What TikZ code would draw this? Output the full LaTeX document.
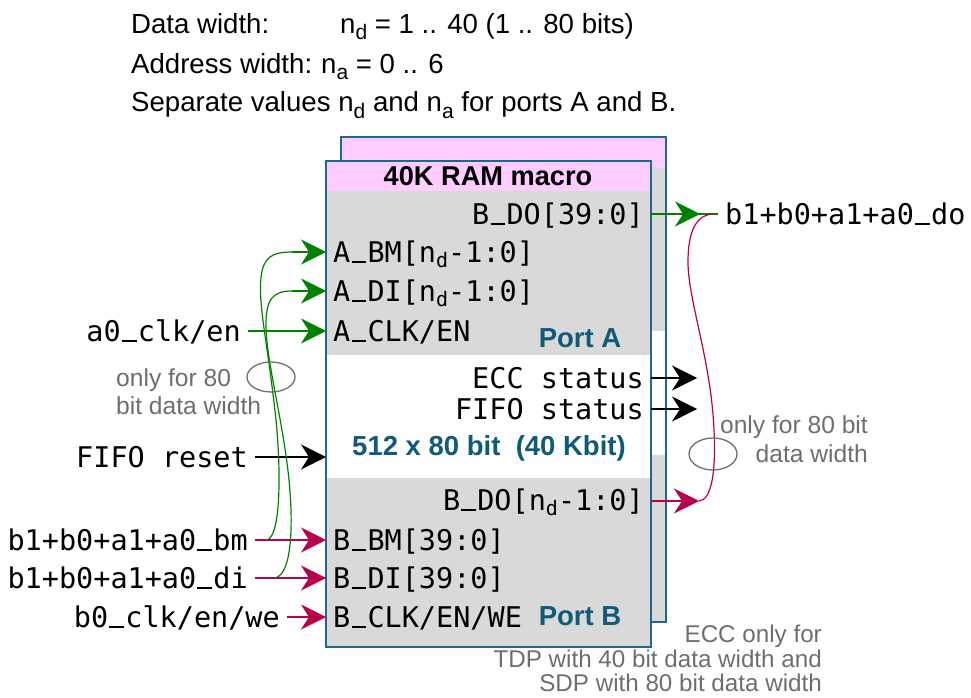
\documentclass[tikz,border=0pt]{standalone}
\usepackage{fontspec}
\setmainfont{Liberation Sans}
\newfontfamily\monof{DejaVu Sans Mono}
\usetikzlibrary{arrows.meta}
\definecolor{arrgreen}{RGB}{0,130,0}
\definecolor{crim}{RGB}{185,0,75}
\definecolor{pinkfill}{RGB}{255,204,255}
\definecolor{grayfill}{RGB}{217,217,217}
\definecolor{border}{RGB}{30,105,135}
\definecolor{tealtext}{RGB}{15,90,120}
\definecolor{notegray}{RGB}{110,110,110}
\newcommand{\lowsub}[1]{\raisebox{-5pt}{\fontsize{20}{20}\selectfont #1}}
\newcommand{\lowsubs}[1]{\raisebox{-6pt}{\fontsize{21}{21}\selectfont #1}}
\newcommand{\us}{\makebox[0.602em][c]{\rule[-0.03em]{0.52em}{0.075em}}}
\begin{document}
\begin{tikzpicture}[x=1pt,y=-1pt,
  mono/.style={font=\monof\fontsize{28.5}{28.5}\selectfont, inner xsep=7pt, inner ysep=0pt, text height=20pt, text depth=0pt},
  toptext/.style={font=\fontsize{27.6}{27.6}\selectfont, inner sep=0pt, text height=20pt, text depth=0pt, anchor=west},
  tealb/.style={font=\bfseries\fontsize{27.5}{27.5}\selectfont, text=tealtext, inner sep=0pt, text height=19.7pt, text depth=0pt},
  note/.style={text=notegray, inner sep=0pt},
  tipstyle/.style={-{Stealth[length=25pt,width=25pt,inset=8pt]}},
  garr/.style={draw=arrgreen, line width=1.3pt, tipstyle},
  carr/.style={draw=crim, line width=1.3pt, tipstyle},
  karr/.style={draw=black, line width=1.3pt, tipstyle},
  gline/.style={draw=arrgreen, line width=1.2pt},
  cline/.style={draw=crim, line width=1.2pt},
  ell/.style={draw=notegray, line width=1.3pt},
  boxborder/.style={draw=border, line width=1.6pt}
]
\useasboundingbox (0,0) rectangle (971,698);

% top texts
\node[toptext] (dw) at (131,24) {Data width:};
\node[toptext] (dwv) at (340,24) {n\lowsubs{d} = 1 .. 40 (1 .. 80 bits)};
\node[toptext] (aw) at (131,64) {Address width:};
\node[toptext] (awv) at (321,64) {n\lowsubs{a} = 0 .. 6};
\node[toptext] (sepv) at (131,102) {Separate values n\lowsubs{d} and n\lowsubs{a} for ports A and B.};

% back rectangle
\fill[pinkfill] (341,137) rectangle (666,168);
\fill[grayfill] (341,168) rectangle (666,331);
\fill[white] (341,331) rectangle (666,455);
\fill[grayfill] (341,455) rectangle (666,622);
\draw[boxborder] (341,137) rectangle (666,622);

% front rectangle
\fill[pinkfill] (326,161) rectangle (651,191);
\fill[grayfill] (326,191) rectangle (651,355);
\fill[white] (326,355) rectangle (651,478);
\fill[grayfill] (326,478) rectangle (651,647);
\draw[boxborder] (326,161) rectangle (651,647);

\node[font=\bfseries\fontsize{27.2}{27.2}\selectfont, inner sep=0pt, text height=19.5pt, text depth=0pt] (hdr) at (488,176) {40K RAM macro};

% ports
\node[mono, anchor=east] (bdo) at (651,214) {B\us DO[39:0]};
\node[mono, anchor=west] (abm) at (326,252) {A\us BM[n\lowsub{d}-1:0]};
\node[mono, anchor=west] (adi) at (326,291) {A\us DI[n\lowsub{d}-1:0]};
\node[mono, anchor=west] (aclk) at (326,331) {A\us CLK/EN};
\node[tealb] (porta) at (580,338) {Port A};
\node[mono, anchor=east] (ecc) at (651,378) {ECC status};
\node[mono, anchor=east] (fifos) at (651,409) {FIFO status};
\node[tealb] (capa) at (489,446) {512 x 80 bit\ \ (40 Kbit)};
\node[mono, anchor=east] (bdon) at (651,500) {B\us DO[n\lowsub{d}-1:0]};
\node[mono, anchor=west] (bbm) at (326,540) {B\us BM[39:0]};
\node[mono, anchor=west] (bdi) at (326,578) {B\us DI[39:0]};
\node[mono, anchor=west] (bclk) at (326,617) {B\us CLK/EN/WE};
\node[tealb] (portb) at (580,616) {Port B};

% left sources
\node[mono, anchor=east] (a0clk) at (248,331) {a0\us clk/en};
\node[mono, anchor=east] (fiforst) at (255,457) {FIFO reset};
\node[mono, anchor=east] (srcbm) at (255,540) {b1+b0+a1+a0\us bm};
\node[mono, anchor=east] (srcdi) at (255,578) {b1+b0+a1+a0\us di};
\node[mono, anchor=east] (srcclk) at (287,617) {b0\us clk/en/we};

% right destination
\node[mono, anchor=west] (dstdo) at (718,214) {b1+b0+a1+a0\us do};

% left arrows
\draw[garr] (a0clk.east) -- (aclk.west);
\draw[karr] (fiforst.east) -- (326,457);
\draw[carr] (srcbm.east) -- (bbm.west);
\draw[carr] (srcdi.east) -- (bdi.west);
\draw[carr] (srcclk.east) -- (bclk.west);

% green curves
\coordinate (gbm) at (267,540);
\coordinate (gdi) at (275,578);
\draw[gline] (gbm) .. controls (281,536) and (281,470) .. (276,420) .. controls (268,345) and (258,305) .. (261,278) .. controls (263,257) and (272,252) .. (292,252);
\draw[garr] (292,252) -- (abm.west);
\draw[gline] (gdi) .. controls (293,574) and (293,520) .. (289,480) .. controls (283,420) and (266,360) .. (266,325) .. controls (266,300) and (272,291) .. (292,291);
\draw[garr] (292,291) -- (adi.west);

% right arrows
\coordinate (bdotip) at (700,214);
\coordinate (eccout) at (697,378);
\coordinate (fifoout) at (697,409);
\coordinate (bdonout) at (699,501);
\draw[gline] (bdo.east |- dstdo.west) -- (dstdo.west);
\draw[garr] (bdo.east |- dstdo.west) -- (bdotip);
\draw[karr] (ecc.east) -- (eccout);
\draw[karr] (fifos.east) -- (fifoout);
\draw[carr] (bdon.east |- bdonout) -- (bdonout);
\draw[cline] (bdonout) .. controls (712,500) and (716,470) .. (714,430) .. controls (711,360) and (688,300) .. (688,262) .. controls (688,228) and (698,214) .. (714,214);

% notes
\draw[ell] (271,377) ellipse [x radius=24, y radius=15];
\node[note, anchor=north west, align=left, font=\fontsize{24.6}{28}\selectfont] (noteL) at (116,368) {only for 80\\bit data width};
\draw[ell] (713,454) ellipse [x radius=24, y radius=16];
\node[note, anchor=north east, align=right, font=\fontsize{24.6}{29}\selectfont] (noteR) at (868,415) {only for 80 bit\\data width};
\node[note, anchor=north east, align=right, font=\fontsize{24.2}{24.6}\selectfont] (noteB) at (822,625) {ECC only for\\TDP with 40 bit data width and\\SDP with 80 bit data width};
\end{tikzpicture}
\end{document}
